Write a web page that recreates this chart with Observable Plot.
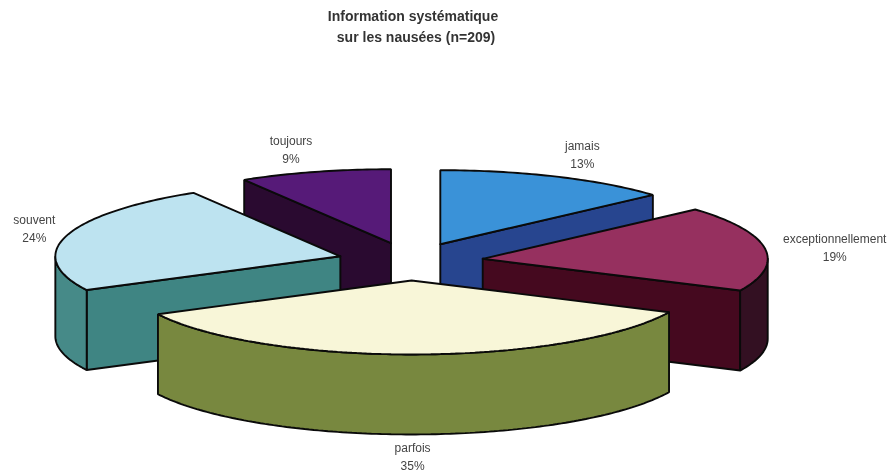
<!DOCTYPE html>
<html><head><meta charset="utf-8">
<script src="https://cdn.jsdelivr.net/npm/d3@7"></script>
<script src="https://cdn.jsdelivr.net/npm/@observablehq/plot@0.6"></script>
<style>html,body{margin:0;padding:0;background:#fff}svg{display:block;filter:blur(0.4px)}</style>
</head><body><div id="chart"></div>
<script>
const categories = ["jamais","exceptionnellement","parfois","souvent","toujours"];
const counts = [28,39,74,50,18];
const percents = [13,19,35,24,9];
const titleLines = ["Information systématique","sur les nausées (n=209)"];
const topColors = ["#3a92d8","#96305f","#f8f6d8","#bde3f0","#561a78"];
const sideColors = ["#27458f","#45091f","#78883f","#3f8583","#2a0a30"];
const rimColors = ["#27458f","#331022","#78883f","#468a88","#2a0a30"];

// projection of the exploded pie
const cx=410, cy=261, rx=285, ry=74, depth=80, explode=0.256;
const labelDelta = {jamais:[142,-91],exceptionnellement:[352,-13],parfois:[1,175],souvent:[-306,-29],toujours:[-100,-95]};

const rad=d=>d*Math.PI/180;
const total=d3.sum(counts);
let cum=0;
const slices=categories.map((name,i)=>{
  const a0=cum/total*360; cum+=counts[i]; const a1=cum/total*360; const m=(a0+a1)/2;
  return {name,i,a0,a1,m,ax:cx+explode*rx*Math.sin(rad(m)),ay:cy-explode*ry*Math.cos(rad(m))};
});
const rimPt=(s,a,dz=0)=>[s.ax+rx*Math.sin(rad(a)),s.ay-ry*Math.cos(rad(a))+dz];
const arc=(s,a,b,dz=0)=>{const n=Math.max(2,Math.ceil(Math.abs(b-a)));return d3.range(n+1).map(k=>rimPt(s,a+(b-a)*k/n,dz));};

const polys=[];
const add=(pts,fill)=>{const id=polys.length;polys.push({id,fill,pts:[...pts,pts[0]]});};
[...slices].sort((p,q)=>Math.abs(q.m-180)-Math.abs(p.m-180)).forEach(s=>{
  const A=[s.ax,s.ay],B=[s.ax,s.ay+depth];
  if(s.a0>180&&s.a0<360){const e=rimPt(s,s.a0);add([A,e,[e[0],e[1]+depth],B],sideColors[s.i]);}
  if(s.a1>0&&s.a1<180){const e=rimPt(s,s.a1);add([A,e,[e[0],e[1]+depth],B],sideColors[s.i]);}
  const lo=Math.max(s.a0,90),hi=Math.min(s.a1,270);
  if(hi>lo)add([...arc(s,lo,hi),...arc(s,hi,lo,depth)],rimColors[s.i]);
  add([A,...arc(s,s.a0,s.a1)],topColors[s.i]);
});
const points=polys.flatMap(p=>p.pts.map(([x,y])=>({x,y,id:p.id,fill:p.fill})));

const labels=slices.map(s=>({x:s.ax+labelDelta[s.name][0],y:s.ay+labelDelta[s.name][1],text:`${s.name}\n${percents[s.i]}%`}));
const titles=[{x:412.5,y:16,text:titleLines[0]},{x:415.5,y:37,text:titleLines[1]}];

const chart=Plot.plot({
  width:890,height:472,margin:0,
  x:{domain:[0,890],range:[0,890],axis:null},
  y:{domain:[0,472],range:[0,472],axis:null},
  style:{background:"#fff"},
  marks:[
    Plot.line(points,{x:"x",y:"y",z:"id",fill:"fill",stroke:"#0a0a0a",strokeWidth:1.9,strokeLinejoin:"miter",curve:"linear"}),
    Plot.text(labels,{x:"x",y:"y",text:"text",lineHeight:1.5,fontSize:12,fill:"#444",fontFamily:"Liberation Sans"}),
    Plot.text(titles,{x:"x",y:"y",text:"text",fontSize:14,fontWeight:"bold",fill:"#333",fontFamily:"Liberation Sans",style:"letter-spacing:1px"})
  ]
});
document.getElementById("chart").append(chart);
</script></body></html>
